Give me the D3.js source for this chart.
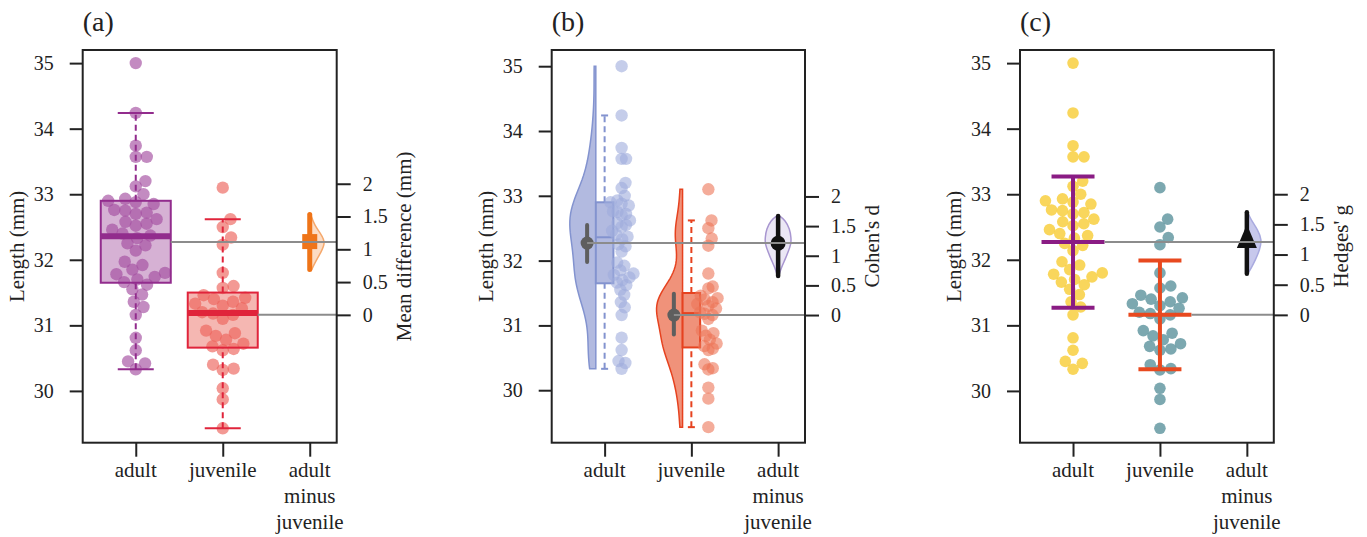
<!DOCTYPE html>
<html>
<head>
<meta charset="utf-8">
<script src="https://cdn.jsdelivr.net/npm/d3@7"></script>
<style>
  body { margin: 0; background: #fff; }
  svg text { font-family: "Liberation Serif", "Tinos", "Noto Serif", "DejaVu Serif", "FreeSerif", "Nimbus Roman", "Times New Roman", serif; fill: #222; }
</style>
</head>
<body>
<svg id="chart" width="1367" height="537"></svg>
<script>
////////////////////////////////////////////////////
// data
var groups = ["adult", "juvenile"];
var categoryLabels = [["adult"], ["juvenile"], ["adult", "minus", "juvenile"]];
var panelLetters = ["(a)", "(b)", "(c)"];

var adult = [35.00, 34.24, 33.74, 33.57, 33.57, 33.20, 33.12, 33.00, 32.93, 32.90,
             32.88, 32.85, 32.76, 32.75, 32.72, 32.70, 32.62, 32.58, 32.55, 32.52,
             32.46, 32.40, 32.37, 32.33, 32.25, 32.22, 32.14, 31.97, 31.92, 31.85,
             31.80, 31.78, 31.74, 31.70, 31.66, 31.62, 31.55, 31.47, 31.36, 31.28,
             31.16, 30.81, 30.62, 30.45, 30.42, 30.33];
var juvenile = [33.10, 32.62, 32.50, 32.34, 32.23, 31.80, 31.60, 31.57, 31.46, 31.42,
                31.40, 31.36, 31.33, 31.30, 31.26, 31.20, 31.18, 31.16, 31.10, 30.92,
                30.88, 30.84, 30.78, 30.72, 30.68, 30.64, 30.62, 30.40, 30.34, 30.32,
                30.04, 29.87, 29.43];

// box stats: [lower whisker, q1, median, q3, upper whisker]
var adultBox = [30.33, 31.65, 32.36, 32.90, 34.24];
var juvenileBox = [29.43, 30.66, 31.19, 31.50, 32.62];
var groupMeans = [32.27, 31.16];
var groupMeanCI = [[31.98, 32.55], [30.86, 31.49]];
var groupSD = [1.00, 0.83];

var lengthTicks = [30, 31, 32, 33, 34, 35];
var effectTicks = [0, 0.5, 1, 1.5, 2];
var effectNames = ["Mean difference (mm)", "Cohen's d", "Hedges' g"];
var effectEst = [1.11, 1.21, 1.20];
var effectCI = [[0.69, 1.53], [0.66, 1.67], [0.68, 1.70]];
var effectUnit = [1, 0.915, 0.92];   // mm per effect unit

// bootstrap densities [effect, relative density]
var diffDensity = [[0.69, 0.12], [0.80, 0.34], [0.95, 0.69], [1.10, 1.0], [1.24, 0.69], [1.36, 0.31], [1.53, 0.06]];
var cohenDensity = [[0.66, 0.05], [0.80, 0.25], [0.92, 0.5], [1.05, 0.75], [1.20, 1.0], [1.30, 1.0], [1.45, 0.9], [1.60, 0.55], [1.67, 0.1]];
var hedgesDensity = [[0.68, 0.05], [0.78, 0.28], [0.91, 0.53], [1.08, 0.81], [1.245, 0.94], [1.41, 0.69], [1.58, 0.25], [1.70, 0.05]];

////////////////////////////////////////////////////
var panelX = [[82.7, 336.7], [551.7, 805], [1020, 1273.8]];
var panelYDomain = [[29.21, 35.2], [29.19, 35.25], [29.21, 35.2]];
var plotTop = 50, plotBottom = 442.7;
var ink = "#222";
var refGrey = "#8c8c8c";

var svg = d3.select("#chart");

//swarm offsets (pixels), closest free spot to the centre line
function swarm(values, yScale, diam) {
  var order = d3.range(values.length).sort(function(a, b) { return values[a] - values[b]; });
  var placed = [], out = new Array(values.length);
  order.forEach(function(i) {
    var y = yScale(values[i]);
    var cands = [0];
    placed.forEach(function(p) {
      var dy = Math.abs(p.y - y);
      if (dy < diam) {
        var dx = Math.sqrt(diam * diam - dy * dy);
        cands.push(p.x + dx + 0.01, p.x - dx - 0.01);
      }
    });
    cands.sort(function(a, b) { return Math.abs(a) - Math.abs(b); });
    var x = cands.find(function(c) {
      return placed.every(function(p) { return (p.x - c) * (p.x - c) + (p.y - y) * (p.y - y) >= diam * diam - 0.05; });
    });
    placed.push({x: x, y: y});
    out[i] = x;
  });
  return out;
}

//gaussian kernel density (R's bw.nrd0), trimmed to the data range
function kde(values, n) {
  var s = values.slice().sort(d3.ascending);
  var iqr = d3.quantile(s, 0.75) - d3.quantile(s, 0.25);
  var bw = 0.9 * Math.min(d3.deviation(s), iqr / 1.34) * Math.pow(s.length, -0.2);
  var lo = s[0], hi = s[s.length - 1];
  var dens = d3.range(n + 1).map(function(k) {
    var v = lo + (hi - lo) * k / n;
    return [v, d3.sum(s, function(x) { return Math.exp(-0.5 * Math.pow((v - x) / bw, 2)); })];
  });
  var m = d3.max(dens, function(d) { return d[1]; });
  return dens.map(function(d) { return [d[0], d[1] / m]; });
}

function makePanel(p) {
  var g = svg.append("g");
  var x = d3.scaleLinear().domain([0.39, 3.31]).range(panelX[p]);
  var y = d3.scaleLinear().domain(panelYDomain[p]).range([plotBottom, plotTop]);
  var yE = d3.scaleLinear().domain([0, 1])
      .range([y(groupMeans[1]), y(groupMeans[1] + effectUnit[p])]);
  return {g: g, x: x, y: y, yE: yE, x0: panelX[p][0], x1: panelX[p][1]};
}

function drawAxes(P, p) {
  var g = P.g;
  g.append("rect")
      .attr("x", P.x0).attr("y", plotTop)
      .attr("width", P.x1 - P.x0).attr("height", plotBottom - plotTop)
      .attr("fill", "none").attr("stroke", ink).attr("stroke-width", 2);

  var left = g.append("g").attr("transform", "translate(" + P.x0 + ",0)")
      .call(d3.axisLeft(P.y).tickValues(lengthTicks).tickSize(13).tickPadding(16).tickFormat(d3.format("d")));
  var right = g.append("g").attr("transform", "translate(" + P.x1 + ",0)")
      .call(d3.axisRight(P.yE).tickValues(effectTicks).tickSize(14).tickPadding(12).tickFormat(function(d) { return String(d); }));
  var bot = g.append("g").attr("transform", "translate(0," + plotBottom + ")")
      .call(d3.axisBottom(P.x).tickValues([1, 2, 3]).tickSize(14).tickFormat(""));

  [left, right, bot].forEach(function(a) {
    a.select(".domain").remove();
    a.attr("font-family", null).attr("font-size", 20);
    a.selectAll(".tick line").attr("stroke", ink).attr("stroke-width", 2);
    a.selectAll(".tick text").attr("fill", ink);
  });

  categoryLabels.forEach(function(lines, i) {
    var t = g.append("text").attr("text-anchor", "middle").attr("font-size", 21)
        .attr("x", P.x(i + 1)).attr("y", 477);
    lines.forEach(function(s, k) {
      t.append("tspan").attr("x", P.x(i + 1)).attr("dy", k === 0 ? 0 : 26).text(s);
    });
  });

  var yc = (plotTop + plotBottom) / 2;
  g.append("text").attr("font-size", 21).attr("text-anchor", "middle")
      .attr("transform", "translate(" + (P.x0 - 59) + "," + yc + ") rotate(-90)")
      .text("Length (mm)");
  g.append("text").attr("font-size", 21).attr("text-anchor", "middle")
      .attr("transform", "translate(" + (P.x1 + 74) + "," + yc + ") rotate(-90)")
      .text(effectNames[p]);
  g.append("text").attr("font-size", 28).attr("x", P.x0).attr("y", 31)
      .text(panelLetters[p]);
}

function refLines(P, xs) {
  P.g.append("line").attr("x1", xs[0]).attr("x2", P.x1)
      .attr("y1", P.y(groupMeans[0])).attr("y2", P.y(groupMeans[0]))
      .attr("stroke", refGrey).attr("stroke-width", 2);
  P.g.append("line").attr("x1", xs[1]).attr("x2", P.x1)
      .attr("y1", P.y(groupMeans[1])).attr("y2", P.y(groupMeans[1]))
      .attr("stroke", refGrey).attr("stroke-width", 2);
}

function halfViolin(P, dens, scaleY, xc, maxW, side, fill, stroke, curve) {
  var area = d3.area()
      .y(function(d) { return scaleY(d[0]); })
      .x0(xc)
      .x1(function(d) { return xc + side * d[1] * maxW; })
      .curve(curve || d3.curveBasis);
  P.g.append("path").datum(dens).attr("d", area)
      .attr("fill", fill).attr("stroke", stroke).attr("stroke-width", 1.5);
}

var boxes = [adultBox, juvenileBox];
var data = [adult, juvenile];

////////////////// panel (a) //////////////////
(function() {
  var P = makePanel(0);
  var fills = ["#cfa3cd", "#f3aaa5"];
  var dots = ["#a34d9f", "#ec625a"];
  var lines = ["#922c8d", "#e0243b"];
  var bw = 70;
  boxes.forEach(function(b, i) {
    P.g.append("rect").attr("x", P.x(i + 1) - bw / 2).attr("y", P.y(b[3]))
        .attr("width", bw).attr("height", P.y(b[1]) - P.y(b[3]))
        .attr("fill", fills[i]).attr("opacity", 0.85);
  });
  data.forEach(function(vals, i) {
    var off = swarm(vals, P.y, 11);
    P.g.append("g").selectAll("circle").data(vals).enter().append("circle")
        .attr("cx", function(d, k) { return P.x(i + 1) + off[k]; })
        .attr("cy", function(d) { return P.y(d); })
        .attr("r", 6.2).attr("fill", dots[i]).attr("fill-opacity", 0.65);
  });
  boxes.forEach(function(b, i) {
    var xc = P.x(i + 1);
    [[b[0], b[1]], [b[3], b[4]]].forEach(function(w) {
      P.g.append("line").attr("x1", xc).attr("x2", xc).attr("y1", P.y(w[0])).attr("y2", P.y(w[1]))
          .attr("stroke", lines[i]).attr("stroke-width", 2).attr("stroke-dasharray", "6,4");
    });
    [b[0], b[4]].forEach(function(v) {
      P.g.append("line").attr("x1", xc - 18).attr("x2", xc + 18).attr("y1", P.y(v)).attr("y2", P.y(v))
          .attr("stroke", lines[i]).attr("stroke-width", 2);
    });
    P.g.append("rect").attr("x", xc - bw / 2).attr("y", P.y(b[3]))
        .attr("width", bw).attr("height", P.y(b[1]) - P.y(b[3]))
        .attr("fill", "none").attr("stroke", lines[i]).attr("stroke-width", 2);
    P.g.append("line").attr("x1", xc - bw / 2).attr("x2", xc + bw / 2).attr("y1", P.y(b[2])).attr("y2", P.y(b[2]))
        .attr("stroke", lines[i]).attr("stroke-width", 6);
  });
  var xe = P.x(3);
  halfViolin(P, diffDensity, P.yE, xe, 16, 1, "#fcdcc4", "#f5a86c");
  P.g.append("line").attr("x1", xe).attr("x2", xe)
      .attr("y1", P.yE(effectCI[0][0])).attr("y2", P.yE(effectCI[0][1]))
      .attr("stroke", "#ef7418").attr("stroke-width", 5).attr("stroke-linecap", "round");
  P.g.append("rect").attr("x", xe - 7.5).attr("y", P.yE(effectEst[0]) - 8)
      .attr("width", 15).attr("height", 15).attr("fill", "#ef7418");
  refLines(P, [P.x(1) + bw / 2, P.x(2) + bw / 2]);
  drawAxes(P, 0);
})();

////////////////// panel (b) //////////////////
(function() {
  var P = makePanel(1);
  var vFill = ["#b2bae0", "#f0927a"];
  var vLine = ["#8393cf", "#e6421f"];
  var dots = ["#9eabdc", "#ec7556"];
  var bw = 17.6;
  data.forEach(function(vals, i) {
    var xc = P.x(i + 1);
    halfViolin(P, kde(vals, 80), P.y, xc - bw / 2, 26, -1, vFill[i], vLine[i], d3.curveLinear);
    var b = boxes[i];
    P.g.append("rect").attr("x", xc - bw / 2).attr("y", P.y(b[3]))
        .attr("width", bw).attr("height", P.y(b[1]) - P.y(b[3]))
        .attr("fill", vFill[i]).attr("stroke", vLine[i]).attr("stroke-width", 2);
    P.g.append("line").attr("x1", xc - bw / 2).attr("x2", xc + bw / 2).attr("y1", P.y(b[2])).attr("y2", P.y(b[2]))
        .attr("stroke", vLine[i]).attr("stroke-width", 2);
    [[b[0], b[1]], [b[3], b[4]]].forEach(function(w) {
      P.g.append("line").attr("x1", xc).attr("x2", xc).attr("y1", P.y(w[0])).attr("y2", P.y(w[1]))
          .attr("stroke", vLine[i]).attr("stroke-width", 2).attr("stroke-dasharray", "6,4");
    });
    [b[0], b[4]].forEach(function(v) {
      P.g.append("line").attr("x1", xc - 3.5).attr("x2", xc + 3.5).attr("y1", P.y(v)).attr("y2", P.y(v))
          .attr("stroke", vLine[i]).attr("stroke-width", 2);
    });
    var off = swarm(vals, P.y, 11);
    P.g.append("g").selectAll("circle").data(vals).enter().append("circle")
        .attr("cx", function(d, k) { return xc + 17 + off[k] * 0.4; })
        .attr("cy", function(d) { return P.y(d); })
        .attr("r", 6.2).attr("fill", dots[i]).attr("fill-opacity", 0.6);
  });
  var mx = [P.x(1) - 17.5, P.x(2) - 17.5];
  groupMeans.forEach(function(m, i) {
    P.g.append("line").attr("x1", mx[i]).attr("x2", mx[i])
        .attr("y1", P.y(groupMeanCI[i][0])).attr("y2", P.y(groupMeanCI[i][1]))
        .attr("stroke", "#5e5e5e").attr("stroke-width", 4).attr("stroke-linecap", "round");
    P.g.append("circle").attr("cx", mx[i]).attr("cy", P.y(m)).attr("r", 6.5).attr("fill", "#5e5e5e");
  });
  var xe = P.x(3);
  halfViolin(P, cohenDensity, P.yE, xe, 13, 1, "#ebe7f5", "#a896d0");
  halfViolin(P, cohenDensity, P.yE, xe, 13, -1, "#ebe7f5", "#a896d0");
  P.g.append("line").attr("x1", xe).attr("x2", xe)
      .attr("y1", P.yE(effectCI[1][0])).attr("y2", P.yE(effectCI[1][1]))
      .attr("stroke", "#111").attr("stroke-width", 4.5).attr("stroke-linecap", "round");
  P.g.append("circle").attr("cx", xe).attr("cy", P.yE(effectEst[1])).attr("r", 7.5).attr("fill", "#111");
  refLines(P, mx);
  drawAxes(P, 1);
})();

////////////////// panel (c) //////////////////
(function() {
  var P = makePanel(2);
  var dots = ["#f7cc33", "#5b929c"];
  var bars = ["#8a1c84", "#e8491f"];
  data.forEach(function(vals, i) {
    var xc = P.x(i + 1);
    var off = swarm(vals, P.y, 11);
    P.g.append("g").selectAll("circle").data(vals).enter().append("circle")
        .attr("cx", function(d, k) { return xc + off[k]; })
        .attr("cy", function(d) { return P.y(d); })
        .attr("r", 5.8).attr("fill", dots[i]).attr("fill-opacity", 0.8);
  });
  groupMeans.forEach(function(m, i) {
    var xc = P.x(i + 1);
    var hi = m + groupSD[i], lo = m - groupSD[i];
    P.g.append("line").attr("x1", xc).attr("x2", xc).attr("y1", P.y(lo)).attr("y2", P.y(hi))
        .attr("stroke", bars[i]).attr("stroke-width", 4);
    [lo, hi].forEach(function(v) {
      P.g.append("line").attr("x1", xc - 21.5).attr("x2", xc + 21.5).attr("y1", P.y(v)).attr("y2", P.y(v))
          .attr("stroke", bars[i]).attr("stroke-width", 4);
    });
    P.g.append("line").attr("x1", xc - 31.5).attr("x2", xc + 31.5).attr("y1", P.y(m)).attr("y2", P.y(m))
        .attr("stroke", bars[i]).attr("stroke-width", 4);
  });
  var xe = P.x(3);
  halfViolin(P, hedgesDensity, P.yE, xe, 16, 1, "#c7c8ec", "#a9aadf");
  P.g.append("line").attr("x1", xe).attr("x2", xe)
      .attr("y1", P.yE(effectCI[2][0])).attr("y2", P.yE(effectCI[2][1]))
      .attr("stroke", "#111").attr("stroke-width", 4.5).attr("stroke-linecap", "round");
  var ye = P.yE(effectEst[2]);
  P.g.append("path").attr("d", "M" + xe + "," + (ye - 18) + "L" + (xe + 10) + "," + (ye + 5.6) + "L" + (xe - 10) + "," + (ye + 5.6) + "Z")
      .attr("fill", "#111");
  refLines(P, [P.x(1) + 31.5, P.x(2) + 31.5]);
  drawAxes(P, 2);
})();
</script>
</body>
</html>
